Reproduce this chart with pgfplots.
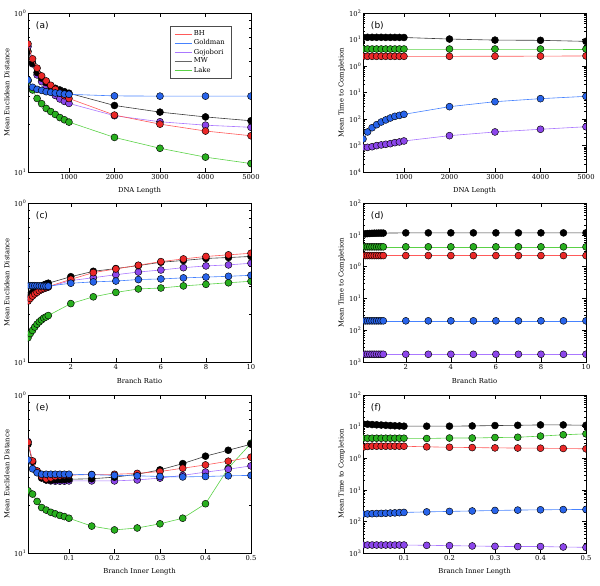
\documentclass[border=0pt]{standalone}
\usepackage{pgfplots}
\pgfplotsset{compat=1.18}
\usepackage{pgfplotstable}
\usepackage{fontspec}
\setmainfont{DejaVu Serif}
\newfontfamily\dvsans{DejaVu Sans}

\definecolor{redL}{RGB}{255,90,90}
\definecolor{redF}{RGB}{235,40,40}
\definecolor{blueL}{RGB}{70,130,255}
\definecolor{blueF}{RGB}{40,100,235}
\definecolor{purpL}{RGB}{170,120,255}
\definecolor{purpF}{RGB}{140,70,235}
\definecolor{blackL}{RGB}{60,60,60}
\definecolor{blackF}{RGB}{0,0,0}
\definecolor{greenL}{RGB}{90,210,70}
\definecolor{greenF}{RGB}{40,175,30}

\pgfplotstableread{
x bh gold gojo mw lake
100 0.640 0.379 0.616 0.573 0.374
200 0.515 0.341 0.479 0.483 0.328
300 0.450 0.331 0.408 0.422 0.290
400 0.402 0.326 0.370 0.389 0.269
500 0.374 0.320 0.345 0.365 0.251
600 0.351 0.317 0.322 0.348 0.240
700 0.331 0.314 0.303 0.336 0.230
800 0.315 0.313 0.288 0.328 0.220
900 0.302 0.309 0.278 0.320 0.213
1000 0.290 0.308 0.270 0.313 0.206
2000 0.228 0.301 0.226 0.262 0.165
3000 0.200 0.300 0.207 0.238 0.141
4000 0.181 0.300 0.197 0.222 0.124
5000 0.169 0.300 0.191 0.210 0.113
}\tabA

\pgfplotstableread{
x bh gold gojo mw lake
100 2.32 0.00176 0.00085 12.1 4.38
200 2.32 0.00324 0.00085 12.1 4.38
300 2.32 0.0047 0.00090 12.1 4.38
400 2.32 0.0061 0.00099 12.1 4.38
500 2.32 0.0077 0.00105 12.1 4.38
600 2.32 0.0092 0.00111 12.0 4.38
700 2.32 0.0109 0.00117 12.0 4.38
800 2.32 0.0126 0.00128 12.0 4.38
900 2.32 0.0137 0.00136 12.0 4.38
1000 2.32 0.0150 0.00148 11.9 4.38
2000 2.32 0.0292 0.00235 10.4 4.38
3000 2.33 0.0450 0.00324 9.5 4.38
4000 2.35 0.0585 0.0041 9.3 4.38
5000 2.40 0.0716 0.0051 8.5 4.38
}\tabB

\pgfplotstableread{
x bh gold gojo mw lake
0.1 0.2415 0.302 0.245 0.255 0.142
0.2 0.251 0.302 0.255 0.265 0.151
0.3 0.260 0.302 0.262 0.274 0.158
0.4 0.268 0.302 0.270 0.282 0.166
0.5 0.274 0.302 0.277 0.289 0.173
0.6 0.281 0.301 0.282 0.295 0.179
0.7 0.286 0.301 0.286 0.301 0.184
0.8 0.290 0.300 0.290 0.305 0.189
0.9 0.294 0.300 0.293 0.309 0.192
1.0 0.298 0.300 0.296 0.313 0.196
2 0.331 0.313 0.325 0.344 0.233
3 0.365 0.319 0.339 0.372 0.257
4 0.385 0.323 0.354 0.387 0.274
5 0.406 0.330 0.368 0.404 0.288
6 0.428 0.333 0.379 0.424 0.292
7 0.445 0.338 0.392 0.435 0.301
8 0.461 0.342 0.402 0.448 0.308
9 0.472 0.346 0.408 0.454 0.315
10 0.483 0.351 0.418 0.461 0.322
}\tabC

\pgfplotstableread{
x bh gold gojo mw lake
0.1 2.22 0.0197 0.00175 10.5 4.18
0.2 2.22 0.0197 0.00175 10.7 4.18
0.3 2.22 0.0197 0.00175 10.9 4.18
0.4 2.22 0.0197 0.00175 11.0 4.18
0.5 2.22 0.0197 0.00175 11.1 4.18
0.6 2.22 0.0197 0.00175 11.2 4.18
0.7 2.22 0.0197 0.00175 11.2 4.18
0.8 2.22 0.0197 0.00175 11.3 4.18
0.9 2.22 0.0197 0.00175 11.3 4.18
1.0 2.22 0.0197 0.00175 11.3 4.18
2 2.22 0.0197 0.00175 11.5 4.18
3 2.22 0.0197 0.00175 11.5 4.18
4 2.22 0.0197 0.00175 11.5 4.18
5 2.22 0.0197 0.00175 11.5 4.18
6 2.22 0.0197 0.00175 11.5 4.18
7 2.22 0.0197 0.00175 11.5 4.18
8 2.22 0.0197 0.00175 11.5 4.18
9 2.22 0.0197 0.00175 11.5 4.18
10 2.22 0.0197 0.00175 11.5 4.18
}\tabD

\pgfplotstableread{
x bh gold gojo mw lake
0.01 0.502 0.389 0.507 0.488 0.248
0.02 0.383 0.341 0.380 0.376 0.236
0.03 0.331 0.322 0.328 0.325 0.212
0.04 0.305 0.315 0.303 0.298 0.194
0.05 0.295 0.315 0.290 0.290 0.187
0.06 0.299 0.315 0.286 0.289 0.181
0.07 0.305 0.315 0.285 0.290 0.177
0.08 0.308 0.315 0.285 0.291 0.173
0.09 0.310 0.315 0.285 0.291 0.170
0.10 0.311 0.315 0.286 0.293 0.166
0.15 0.314 0.313 0.286 0.295 0.148
0.20 0.315 0.310 0.286 0.302 0.140
0.25 0.319 0.308 0.290 0.315 0.144
0.30 0.328 0.305 0.298 0.336 0.153
0.35 0.344 0.303 0.310 0.368 0.166
0.40 0.361 0.305 0.325 0.410 0.205
0.45 0.381 0.308 0.339 0.447 0.344
0.50 0.404 0.310 0.356 0.488 0.495
}\tabE

\pgfplotstableread{
x bh gold gojo mw lake
0.01 2.22 0.0171 0.00179 12.1 4.28
0.02 2.35 0.0173 0.00179 11.9 4.28
0.03 2.40 0.0175 0.00179 11.6 4.28
0.04 2.40 0.0177 0.00179 11.4 4.28
0.05 2.40 0.0179 0.00179 11.2 4.28
0.06 2.40 0.0181 0.00179 11.0 4.28
0.07 2.40 0.0184 0.00179 10.8 4.28
0.08 2.40 0.0186 0.00179 10.6 4.28
0.09 2.40 0.0189 0.00179 10.5 4.28
0.10 2.39 0.0192 0.00179 10.3 4.28
0.15 2.29 0.0200 0.00175 10.3 4.20
0.20 2.22 0.0207 0.00171 10.3 4.35
0.25 2.17 0.0214 0.00167 10.5 4.35
0.30 2.12 0.0222 0.00162 10.8 4.50
0.35 2.10 0.0228 0.00160 11.0 4.60
0.40 2.07 0.0233 0.00160 11.3 5.00
0.45 2.03 0.0236 0.00155 11.3 5.50
0.50 1.98 0.0239 0.00151 11.0 5.90
}\tabF

\newcommand{\sz}{\fontsize{6.8}{8}\selectfont}

\pgfplotsset{
  every axis/.append style={
    scale only axis, width=223pt, height=159pt,
    axis line style={line width=0.8pt},
    tick style={black, line width=0.4pt},
    major tick length=4pt, minor tick length=2pt,
    tick align=inside,
    ticklabel style={font=\sz},
    label style={font=\sz},
    clip marker paths=true,
    yticklabel style={inner sep=1.5pt},
    xticklabel style={inner sep=2pt},
  },
  every axis y label/.style={at={(axis description cs:-0.095,0.5)},rotate=90,anchor=center},
  every axis x label/.style={at={(axis description cs:0.5,-0.12)},anchor=center},
}

\tikzset{
  sBH/.style={color=redL, line width=0.6pt, mark=*, mark size=3.5pt,
     mark options={solid, fill=redF, draw=black, line width=0.45pt}},
  sGO/.style={color=blueL, line width=0.6pt, mark=*, mark size=3.5pt,
     mark options={solid, fill=blueF, draw=black, line width=0.45pt}},
  sGJ/.style={color=purpL, line width=0.6pt, mark=*, mark size=3.5pt,
     mark options={solid, fill=purpF, draw=black, line width=0.45pt}},
  sMW/.style={color=blackL, line width=0.6pt, mark=*, mark size=3.5pt,
     mark options={solid, fill=blackF, draw=black, line width=0.45pt}},
  sLA/.style={color=greenL, line width=0.6pt, mark=*, mark size=3.5pt,
     mark options={solid, fill=greenF, draw=black, line width=0.45pt}},
}

\newcommand{\allplots}[1]{%
  \addplot[sLA, forget plot] table[x=x,y=lake]{#1};
  \addplot[sGJ, forget plot] table[x=x,y=gojo]{#1};
  \addplot[sMW, forget plot] table[x=x,y=mw]{#1};
  \addplot[sBH, forget plot] table[x=x,y=bh]{#1};
  \addplot[sGO, forget plot] table[x=x,y=gold]{#1};
}
\newcommand{\plab}[1]{\node[anchor=west, font=\dvsans\fontsize{9}{10}\selectfont] at (rel axis cs:0.02,0.918) {(#1)};}

\begin{document}
\begin{tikzpicture}
\path[use as bounding box] (0,0) rectangle (600pt,586pt);

% (a)
\begin{axis}[ymode=log, at={(28pt,414pt)}, anchor=south west,
  ymin=0.1, ymax=1, ytick={0.1,1}, yticklabels={10\textsuperscript{1},10\textsuperscript{0}},
  minor ytick={0.2,0.3,0.4,0.5,0.6,0.7,0.8,0.9},
  ylabel={Mean Euclidean Distance},
  xmin=100, xmax=5000, xtick={1000,2000,3000,4000,5000},
  xticklabels={1000,2000,3000,4000,5000}, xlabel={DNA Length},
  legend style={at={(rel axis cs:0.637,0.918)}, anchor=north west, draw=black!70,
    line width=0.4pt, font=\sz, row sep=-1.5pt, inner xsep=4pt, inner ysep=2.5pt},
  legend cell align=left]
  \addlegendimage{no markers, redL, line width=0.6pt}
  \addlegendentry{BH}
  \addlegendimage{no markers, blueL, line width=0.6pt}
  \addlegendentry{Goldman}
  \addlegendimage{no markers, purpL, line width=0.6pt}
  \addlegendentry{Gojobori}
  \addlegendimage{no markers, black!60, line width=0.6pt}
  \addlegendentry{MW}
  \addlegendimage{no markers, greenL, line width=0.6pt}
  \addlegendentry{Lake}
  \allplots{\tabA}
  \plab{a}
\end{axis}

% (b)
\begin{axis}[ymode=log, at={(363pt,414pt)}, anchor=south west,
  ylabel={Mean Time to Completion},
  xmin=100, xmax=5000, xtick={1000,2000,3000,4000,5000},
  xticklabels={1000,2000,3000,4000,5000}, xlabel={DNA Length},
  ymin=1e-4, ymax=1e2,
  ytick={1e-4,1e-3,1e-2,1e-1,1,10,100},
  yticklabels={10\textsuperscript{4},10\textsuperscript{3},10\textsuperscript{2},10\textsuperscript{1},10\textsuperscript{0},10\textsuperscript{1},10\textsuperscript{2}},
  minor ytick={2e-4,3e-4,4e-4,5e-4,6e-4,7e-4,8e-4,9e-4,2e-3,3e-3,4e-3,5e-3,6e-3,7e-3,8e-3,9e-3,0.02,0.03,0.04,0.05,0.06,0.07,0.08,0.09,0.2,0.3,0.4,0.5,0.6,0.7,0.8,0.9,2,3,4,5,6,7,8,9,20,30,40,50,60,70,80,90}]
  \allplots{\tabB}
  \plab{b}
\end{axis}

% (c)
\begin{axis}[ymode=log, at={(28pt,224pt)}, anchor=south west,
  ymin=0.1, ymax=1, ytick={0.1,1}, yticklabels={10\textsuperscript{1},10\textsuperscript{0}},
  minor ytick={0.2,0.3,0.4,0.5,0.6,0.7,0.8,0.9},
  ylabel={Mean Euclidean Distance},
  xmin=0.1, xmax=10, xtick={2,4,6,8,10},
  xticklabels={2,4,6,8,10}, xlabel={Branch Ratio}]
  \allplots{\tabC}
  \plab{c}
\end{axis}

% (d)
\begin{axis}[ymode=log, at={(363pt,224pt)}, anchor=south west,
  ylabel={Mean Time to Completion},
  xmin=0.1, xmax=10, xtick={2,4,6,8,10},
  xticklabels={2,4,6,8,10}, xlabel={Branch Ratio},
  ymin=1e-3, ymax=1e2,
  ytick={1e-3,1e-2,1e-1,1,10,100},
  yticklabels={10\textsuperscript{3},10\textsuperscript{2},10\textsuperscript{1},10\textsuperscript{0},10\textsuperscript{1},10\textsuperscript{2}},
  minor ytick={2e-3,3e-3,4e-3,5e-3,6e-3,7e-3,8e-3,9e-3,0.02,0.03,0.04,0.05,0.06,0.07,0.08,0.09,0.2,0.3,0.4,0.5,0.6,0.7,0.8,0.9,2,3,4,5,6,7,8,9,20,30,40,50,60,70,80,90}]
  \allplots{\tabD}
  \plab{d}
\end{axis}

% (e)
\begin{axis}[ymode=log, at={(28pt,33pt)}, anchor=south west, height=158pt,
  ymin=0.1, ymax=1, ytick={0.1,1}, yticklabels={10\textsuperscript{1},10\textsuperscript{0}},
  minor ytick={0.2,0.3,0.4,0.5,0.6,0.7,0.8,0.9},
  ylabel={Mean Euclidean Distance},
  xmin=0.01, xmax=0.5, xtick={0.1,0.2,0.3,0.4,0.5},
  xticklabels={0.1,0.2,0.3,0.4,0.5}, xlabel={Branch Inner Length}]
  \allplots{\tabE}
  \plab{e}
\end{axis}

% (f)
\begin{axis}[ymode=log, at={(363pt,33pt)}, anchor=south west, height=158pt,
  ylabel={Mean Time to Completion},
  xmin=0.01, xmax=0.5, xtick={0.1,0.2,0.3,0.4,0.5},
  xticklabels={0.1,0.2,0.3,0.4,0.5}, xlabel={Branch Inner Length},
  ymin=1e-3, ymax=1e2,
  ytick={1e-3,1e-2,1e-1,1,10,100},
  yticklabels={10\textsuperscript{3},10\textsuperscript{2},10\textsuperscript{1},10\textsuperscript{0},10\textsuperscript{1},10\textsuperscript{2}},
  minor ytick={2e-3,3e-3,4e-3,5e-3,6e-3,7e-3,8e-3,9e-3,0.02,0.03,0.04,0.05,0.06,0.07,0.08,0.09,0.2,0.3,0.4,0.5,0.6,0.7,0.8,0.9,2,3,4,5,6,7,8,9,20,30,40,50,60,70,80,90}]
  \allplots{\tabF}
  \plab{f}
\end{axis}
\end{tikzpicture}
\end{document}
